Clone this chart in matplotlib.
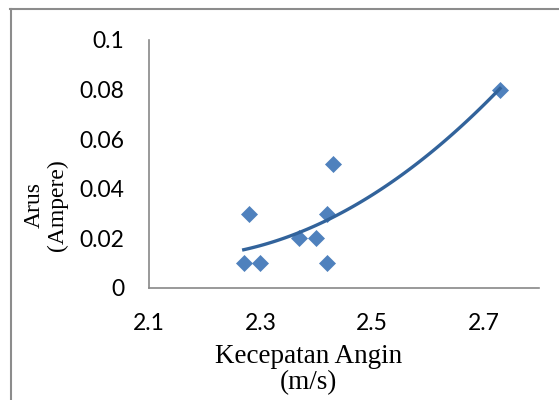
import matplotlib
matplotlib.use("Agg")
import matplotlib.pyplot as plt
from matplotlib.lines import Line2D
import numpy as np

# data
kecepatan = [2.27, 2.30, 2.28, 2.37, 2.40, 2.42, 2.42, 2.43, 2.73]
arus = [0.01, 0.01, 0.03, 0.02, 0.02, 0.03, 0.01, 0.05, 0.08]
x_ticks = [2.1, 2.3, 2.5, 2.7]
y_ticks = [0, 0.02, 0.04, 0.06, 0.08, 0.1]
y_ticklabels = ["0", "0.02", "0.04", "0.06", "0.08", "0.1"]

fig = plt.figure(figsize=(5.59, 4.0), dpi=100)
ax = fig.add_axes([0.2666, 0.28, 0.6977, 0.62])

ax.plot(kecepatan, arus, linestyle="none", marker="D", markersize=8,
        markeredgewidth=0.5, color="#4F81BD", zorder=2)

# polynomial (order 2) trendline, like Excel
coef = np.polyfit(kecepatan, arus, 2)
xt = np.linspace(min(kecepatan), max(kecepatan), 100)
ax.plot(xt, np.polyval(coef, xt), color="#32639B", linewidth=2.4, zorder=3)

ax.set_xlim(2.1, 2.8)
ax.set_ylim(0, 0.1)
ax.set_xticks(x_ticks)
ax.set_xticklabels([str(v) for v in x_ticks])
ax.set_yticks(y_ticks)
ax.set_yticklabels(y_ticklabels)
ax.tick_params(length=0, labelsize=16.5, pad=18)
for lbl in ax.get_xticklabels() + ax.get_yticklabels():
    lbl.set_fontfamily("Lato")

for s in ["top", "right"]:
    ax.spines[s].set_visible(False)
for s in ["left", "bottom"]:
    ax.spines[s].set_color("#888888")
    ax.spines[s].set_linewidth(1.2)

ax.set_xlabel("Kecepatan Angin\n(m/s)", fontfamily="Liberation Serif",
              fontsize=19.5, linespacing=1.05)
ax.xaxis.set_label_coords(0.41, -0.225)
ax.set_ylabel("Arus\n(Ampere)", fontfamily="Liberation Serif",
              fontsize=17, linespacing=1.1)
ax.yaxis.set_label_coords(-0.208, 0.335)

# outer chart border (only top and left visible)
fig.add_artist(Line2D([10 / 559, 1], [1 - 9 / 400, 1 - 9 / 400],
                      color="#8C8C8C", linewidth=1.5))
fig.add_artist(Line2D([10.5 / 559, 10.5 / 559], [0, 1 - 9 / 400],
                      color="#8C8C8C", linewidth=1.5))

fig.savefig("out.png", dpi=100)
